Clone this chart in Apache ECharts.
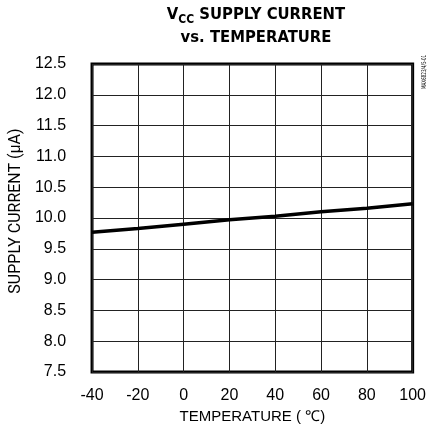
<!DOCTYPE html>
<html>
<head>
<meta charset="utf-8">
<script src="https://cdn.jsdelivr.net/npm/echarts@6/dist/echarts.min.js"></script>
<style>
  html, body { margin: 0; padding: 0; background: #fff; }
  #chart { width: 429px; height: 433px; }
</style>
</head>
<body>
<div id="chart"></div>
<script>
// temperature (C) and supply current (uA)
var temps = [-40, -20, 0, 20, 40, 60, 80, 100];
var current = [9.77, 9.83, 9.90, 9.97, 10.03, 10.10, 10.16, 10.23];

var chart = echarts.init(document.getElementById('chart'));

var points = [];
for (var i = 0; i < temps.length; i++) {
    points.push([temps[i], current[i]]);
}

var option = {
    animation: false,
    backgroundColor: '#fff',
    title: {
        text: '{v|V}{s|CC}{v| SUPPLY CURRENT}\n{v|vs. TEMPERATURE}',
        left: 251,
        top: -2,
        textAlign: 'center',
        textStyle: {
            rich: {
                v: { fontFamily: 'DejaVu Sans Condensed', fontWeight: 'bold', fontSize: 16.5, color: '#000', lineHeight: 23 },
                s: { fontFamily: 'DejaVu Sans Condensed', fontWeight: 'bold', fontSize: 12, color: '#000', lineHeight: 23, verticalAlign: 'bottom', padding: [3, 0, 0, 0] }
            }
        }
    },
    grid: {
        left: 92,
        right: 14,
        top: 64,
        bottom: 61,
        show: true,
        borderColor: '#000',
        borderWidth: 3
    },
    xAxis: {
        type: 'value',
        min: -40,
        max: 100,
        interval: 20,
        name: 'TEMPERATURE ( \u2103)',
        nameLocation: 'middle',
        nameGap: 34,
        nameTextStyle: { fontFamily: 'Liberation Sans', fontSize: 15, color: '#000' },
        axisLine: { show: false },
        axisTick: { show: false },
        axisLabel: { fontFamily: 'Liberation Sans', fontSize: 16, color: '#000', margin: 16 },
        splitLine: { show: true, lineStyle: { color: '#222', width: 1 } }
    },
    yAxis: {
        type: 'value',
        min: 7.5,
        max: 12.5,
        interval: 0.5,
        name: 'SUPPLY CURRENT (\u00b5A)',
        nameLocation: 'middle',
        nameGap: 62,
        nameTextStyle: { fontFamily: 'Roboto', fontSize: 16, color: '#000', padding: [0, 0, 0, 14] },
        axisLine: { show: false },
        axisTick: { show: false },
        axisLabel: {
            fontFamily: 'Liberation Sans', fontSize: 16, color: '#000', margin: 26,
            formatter: function (v) { return v.toFixed(1); }
        },
        splitLine: { show: true, lineStyle: { color: '#222', width: 1 } }
    },
    graphic: [{
        type: 'text',
        x: 424,
        y: 89,
        rotation: Math.PI / 2,
        scaleX: 0.7,
        style: {
            text: 'MAX6823/4/5-01',
            fontFamily: 'DejaVu Sans Condensed',
            fontSize: 6.5,
            fill: '#000',
            textAlign: 'left',
            textVerticalAlign: 'middle'
        }
    }],
    series: [{
        type: 'line',
        data: points,
        symbol: 'none',
        lineStyle: { color: '#000', width: 3.5 }
    }]
};

chart.setOption(option);
</script>
</body>
</html>
